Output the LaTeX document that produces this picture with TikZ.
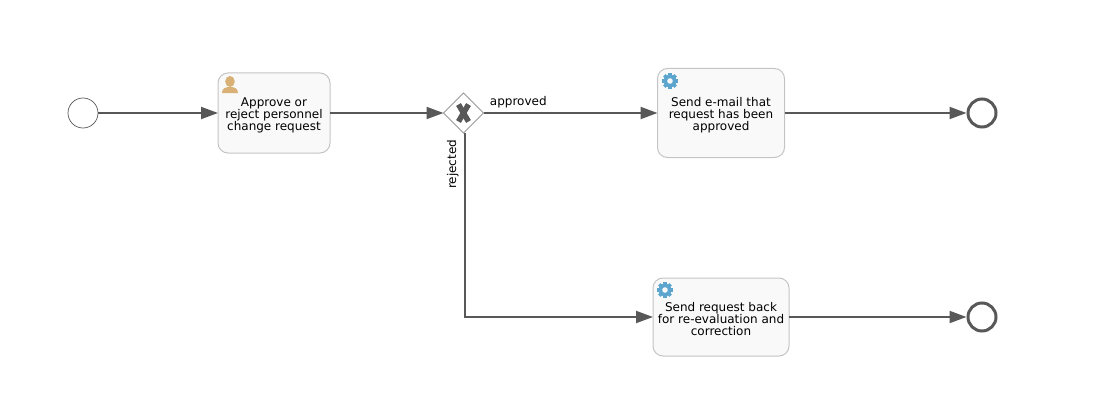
\documentclass[tikz,border=0pt]{standalone}
\usepackage{fontspec}
\setmainfont{DejaVu Sans}
\usetikzlibrary{arrows.meta,shapes.geometric}
\definecolor{flowgray}{HTML}{585858}
\definecolor{boxline}{HTML}{C4C4C4}
\definecolor{boxfill}{HTML}{F9F9F9}
\definecolor{gearblue}{HTML}{5BA5CE}
\definecolor{usertan}{HTML}{D9B075}
% pushes the three text lines a little below the middle of a task
\newcommand{\tasktop}{\rule{0pt}{14pt}}
\tikzset{
  taskbox/.style={draw=boxline,fill=boxfill,line width=1pt,rounded corners=10pt,inner sep=0pt,outer sep=0pt,align=center,font=\fontsize{12}{12}\selectfont},
  startevent/.style={circle,draw=flowgray,line width=0.7pt,minimum size=30pt,inner sep=0pt},
  endevent/.style={circle,draw=flowgray,line width=3pt,minimum size=28pt,inner sep=0pt},
  gatebox/.style={diamond,draw=gray!80,fill=white,line width=0.8pt,minimum width=40pt,minimum height=40pt,inner sep=0pt,outer sep=0pt},
  flowline/.style={draw=flowgray,line width=2pt,-{Triangle[length=17pt,width=12pt]}},
  flowlabel/.style={font=\fontsize{12}{12}\selectfont,inner sep=2pt},
  gearicon/.pic={
    \fill[gearblue] (0,0) circle (6.3);
    \foreach \t in {0,45,...,315}
      \draw[gearblue,line width=3.4pt] (\t:5) -- (\t:8);
    \fill[boxfill] (0,0) circle (2.8);
  },
  usericon/.pic={
    \fill[usertan] (0,-3.5) ellipse (4.8 and 5.5);
    \fill[usertan] (-8,8) .. controls (-8,3) and (-4,2) .. (0,2) .. controls (4,2) and (8,3) .. (8,8) -- cycle;
  }
}
\begin{document}
\begin{tikzpicture}[x=1pt,y=-1pt]
    \useasboundingbox (0,0) rectangle (1103,420);

    % events and tasks
    \node[startevent] (start) at (83,113) {};
    \node[taskbox,minimum width=112pt,minimum height=80pt] (approve) at (274,113) {\tasktop Approve or\\reject personnel\\change request};
    \node[gatebox] (gate) at (463.5,113) {};
    \node[taskbox,minimum width=127pt,minimum height=89pt] (mail) at (721,113) {\tasktop Send e-mail that\\request has been\\approved};
    \node[taskbox,minimum width=136pt,minimum height=78pt] (back) at (721,317) {\tasktop Send request back\\for re-evaluation and\\correction};
    \node[endevent] (endmail) at (982,113) {};
    \node[endevent] (endback) at (982,317) {};

    % cross in the gateway
    \draw[flowgray,line width=5.5pt] ([shift={(-5,-8.5)}]gate.center) -- ([shift={(5,8.5)}]gate.center);
    \draw[flowgray,line width=5.5pt] ([shift={(5,-8.5)}]gate.center) -- ([shift={(-5,8.5)}]gate.center);

    % task icons
    \pic at (230,85) {usericon};
    \pic at (670,81) {gearicon};
    \pic at (665,290) {gearicon};

    % sequence flows
    \draw[flowline] (start) -- (approve);
    \draw[flowline] (approve) -- (gate);
    \draw[flowline] (gate) -- node[flowlabel,pos=0.2,above,yshift=2pt] (approved) {approved} (mail);
    \draw[flowline] ([xshift=1pt]gate.south) |- node[flowlabel,pos=0.085,rotate=90,anchor=south,yshift=3pt] (rejected) {rejected} (back);
    \draw[flowline] (mail) -- (endmail);
    \draw[flowline] (back) -- (endback);

\end{tikzpicture}
\end{document}
